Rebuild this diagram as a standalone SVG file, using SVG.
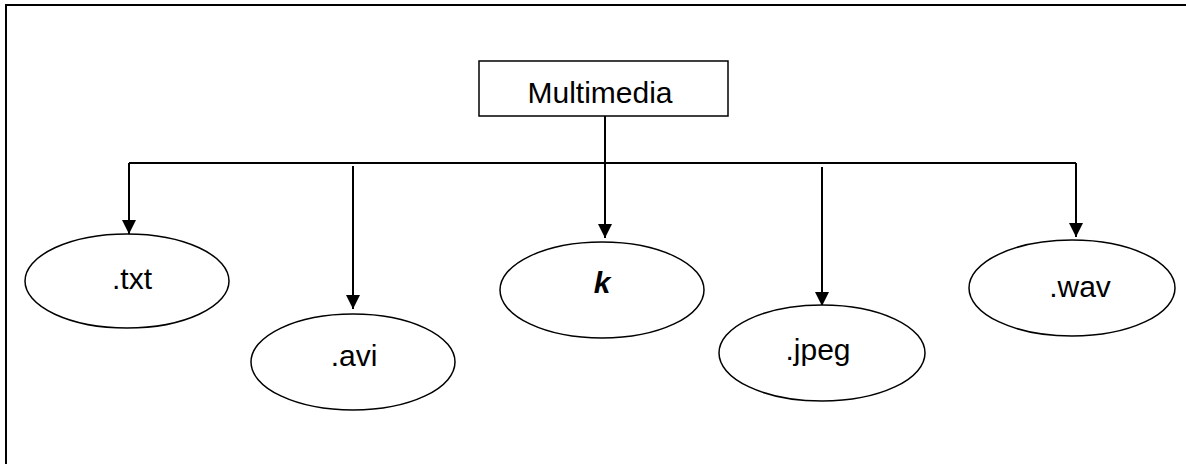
<svg xmlns="http://www.w3.org/2000/svg" width="1186" height="464" viewBox="0 0 1186 464">
<style>
.frame{fill:none;stroke:#000;stroke-width:2}
.box{fill:#fff;stroke:#000;stroke-width:1.5}
.ell{fill:#fff;stroke:#000;stroke-width:1.5}
.ln{fill:none;stroke:#000;stroke-width:2}
.t{font-family:"Liberation Sans",Arial,sans-serif;font-size:30px;fill:#000;text-anchor:middle}
.k{font-weight:bold;font-style:italic}
</style>
<defs>
<marker id="ah" markerUnits="userSpaceOnUse" markerWidth="16" markerHeight="16" viewBox="0 0 16 16" refX="14" refY="8" orient="auto">
<path d="M0,1 L14,8 L0,15 Z" fill="#000"/>
</marker>
</defs>
<rect width="1186" height="464" fill="#fff"/>
<path class="frame" d="M6,464 V5 H1186"/>
<g id="connectors">
<line class="ln" x1="129" y1="163" x2="1076" y2="163"/>
<line class="ln" x1="605" y1="116" x2="605" y2="238" marker-end="url(#ah)"/>
<line class="ln" x1="129" y1="163" x2="129" y2="234" marker-end="url(#ah)"/>
<line class="ln" x1="353" y1="166" x2="353" y2="309" marker-end="url(#ah)"/>
<line class="ln" x1="822" y1="167" x2="822" y2="306" marker-end="url(#ah)"/>
<line class="ln" x1="1076" y1="163" x2="1076" y2="237" marker-end="url(#ah)"/>
</g>
<g id="multimedia">
<rect class="box" x="479" y="61" width="249" height="55"/>
<text class="t" x="600" y="103">Multimedia</text>
</g>
<g id="txt">
<ellipse class="ell" cx="127" cy="281" rx="102" ry="47"/>
<text class="t" x="132" y="289">.txt</text>
</g>
<g id="avi">
<ellipse class="ell" cx="353" cy="362" rx="102" ry="48"/>
<text class="t" x="354" y="366">.avi</text>
</g>
<g id="k">
<ellipse class="ell" cx="602" cy="290" rx="102" ry="48"/>
<text class="t k" x="602" y="293">k</text>
</g>
<g id="jpeg">
<ellipse class="ell" cx="822" cy="353" rx="103" ry="48"/>
<text class="t" x="818" y="360">.jpeg</text>
</g>
<g id="wav">
<ellipse class="ell" cx="1072" cy="288" rx="103" ry="48"/>
<text class="t" x="1080" y="297">.wav</text>
</g>
</svg>
